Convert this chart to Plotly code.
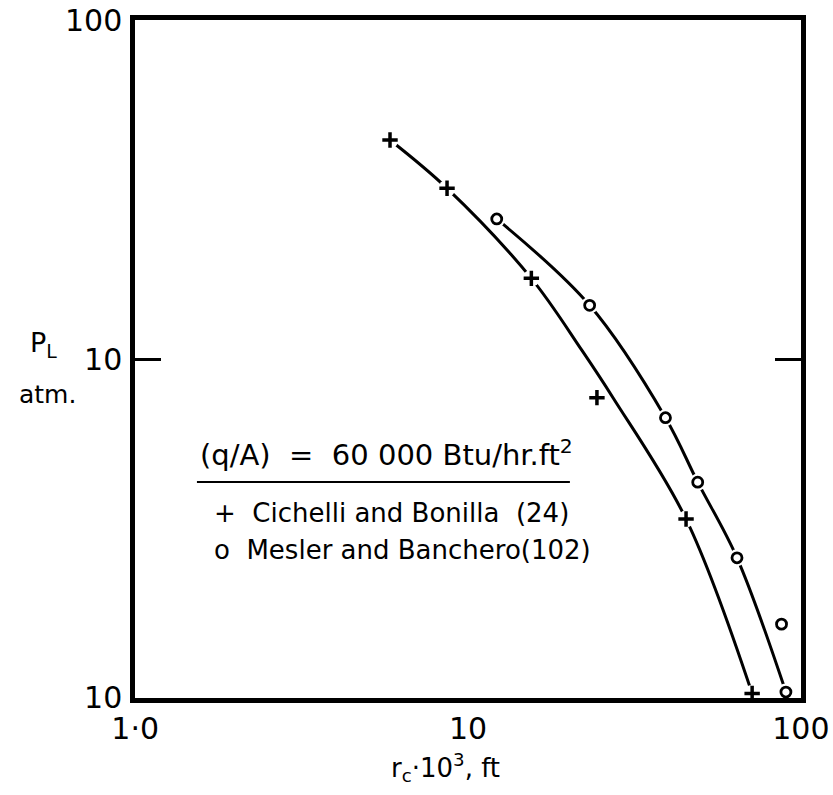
import plotly.graph_objects as go

# Cichelli and Bonilla (24): cavity radius (ft x 10^3) vs pressure (atm)
cb_r = [5.83, 8.65, 15.5, 24.4, 45.2, 71.4]
cb_p = [44.3, 31.9, 17.3, 7.69, 3.37, 1.03]

# Mesler and Banchero (102)
mb_r = [12.2, 23.2, 39.2, 49.0, 64.3, 87.5, 90.2]
mb_p = [25.9, 14.4, 6.71, 4.33, 2.59, 1.65, 1.04]

# Hand-faired curves through each data set
cb_curve_r = [5.83, 8.65, 15.5, 22.0, 27.3, 45.2, 71.4]
cb_curve_p = [44.3, 31.9, 17.3, 10.6, 7.67, 3.37, 1.03]
mb_curve_r = [12.2, 23.2, 39.2, 49.0, 64.3, 90.2]
mb_curve_p = [25.9, 14.4, 6.71, 4.33, 2.59, 1.04]

x_ticks = [1, 10, 100]
x_tick_text = ["1·0", "10", "100"]
y_ticks = [1, 10, 100]
y_tick_text = ["10", "10", "100"]

FONT = "DejaVu Sans"

fig = go.Figure()

for cx, cy in [(cb_curve_r, cb_curve_p), (mb_curve_r, mb_curve_p)]:
    fig.add_trace(go.Scatter(
        x=cx, y=cy, mode="lines",
        line=dict(color="black", width=3, shape="spline", smoothing=1.0),
        hoverinfo="skip", showlegend=False,
    ))

# white halo so the curves break around each plotted point
fig.add_trace(go.Scatter(
    x=cb_r + mb_r, y=cb_p + mb_p, mode="markers",
    marker=dict(symbol="circle", size=17, color="white", line=dict(width=0)),
    hoverinfo="skip", showlegend=False, cliponaxis=False,
))

fig.add_trace(go.Scatter(
    x=cb_r, y=cb_p, mode="markers", name="Cichelli and Bonilla (24)",
    marker=dict(symbol="cross-thin", size=11, color="black",
                line=dict(color="black", width=3.5)),
    showlegend=False, cliponaxis=False,
))
fig.add_trace(go.Scatter(
    x=mb_r, y=mb_p, mode="markers", name="Mesler and Banchero (102)",
    marker=dict(symbol="circle-open", size=10, color="black",
                line=dict(color="black", width=2.8)),
    showlegend=False, cliponaxis=False,
))

fig.update_xaxes(
    type="log", range=[-0.0005, 2.0005], automargin=False,
    tickvals=x_ticks, ticktext=x_tick_text, ticks="",
    showline=True, linecolor="black", linewidth=4.5, mirror=True,
    showgrid=False, zeroline=False,
    tickfont=dict(family=FONT, size=30, color="black"),
    ticklabelstandoff=0,
)
fig.update_yaxes(
    type="log", range=[-0.0005, 2.0005], automargin=False,
    tickvals=y_ticks, ticktext=y_tick_text,
    ticks="inside", ticklen=26, tickwidth=2.6, tickcolor="black",
    showline=True, linecolor="black", linewidth=4.5, mirror="ticks",
    showgrid=False, zeroline=False,
    tickfont=dict(family=FONT, size=30, color="black"),
    ticklabelstandoff=2,
)

annotations = [
    dict(text="r<sub>c</sub>·10<sup>3</sup>, ft", x=0.4655, y=-0.103,
         xref="paper", yref="paper", xanchor="center", yanchor="middle",
         showarrow=False, font=dict(family=FONT, size=26, color="black")),
    dict(text="P<sub>L</sub>", x=-0.137, y=0.522,
         xref="paper", yref="paper", xanchor="center", yanchor="middle",
         showarrow=False, font=dict(family=FONT, size=27, color="black")),
    dict(text="atm.", x=-0.131, y=0.448,
         xref="paper", yref="paper", xanchor="center", yanchor="middle",
         showarrow=False, font=dict(family=FONT, size=25, color="black")),
    dict(text="(q/A)&nbsp;&nbsp;=&nbsp;&nbsp;60 000 Btu/hr.ft<sup>2</sup>",
         x=0.0946, y=0.3614,
         xref="paper", yref="paper", xanchor="left", yanchor="middle",
         showarrow=False, font=dict(family=FONT, size=29, color="black")),
    dict(text="+&nbsp;&nbsp;Cichelli and Bonilla&nbsp;&nbsp;(24)",
         x=0.1156, y=0.2729,
         xref="paper", yref="paper", xanchor="left", yanchor="middle",
         showarrow=False, font=dict(family=FONT, size=26, color="black")),
    dict(text="o&nbsp;&nbsp;Mesler and Banchero(102)", x=0.1156, y=0.2183,
         xref="paper", yref="paper", xanchor="left", yanchor="middle",
         showarrow=False, font=dict(family=FONT, size=26, color="black")),
]

shapes = [
    dict(type="line", xref="paper", yref="paper",
         x0=0.093, x1=0.653, y0=0.3186, y1=0.3186,
         line=dict(color="black", width=2.2)),
]

fig.update_layout(
    width=833, height=795,
    margin=dict(l=135, r=32, t=20, b=97),
    paper_bgcolor="white", plot_bgcolor="white",
    annotations=annotations, shapes=shapes,
    showlegend=False,
)

fig.write_html("out.html")
